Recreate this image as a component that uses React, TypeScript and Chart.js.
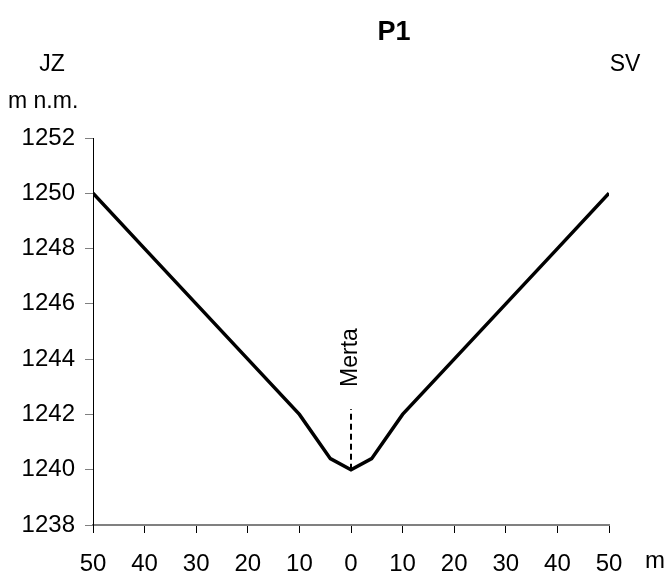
import React, { useEffect, useRef } from "react";
import { Chart, registerables } from "chart.js";

Chart.register(...registerables);

const distance = [-50, -40, -30, -20, -10, -4, 0, 4, 10, 20, 30, 40, 50];
const elevation = [1250, 1248, 1246, 1244, 1242, 1240.4, 1240, 1240.4, 1242, 1244, 1246, 1248, 1250];
const markerX = [0, 0];
const markerY = [1240, 1242.2];
const markerLabel = "Merta";
const title = "P1";
const leftSide = "JZ";
const rightSide = "SV";
const yUnit = "m n.m.";
const xUnit = "m";
const xMin = -50, xMax = 50, xStep = 10;
const yMin = 1238, yMax = 1252, yStep = 2;

const FONT = "'Liberation Sans', Arial, sans-serif";

export default function App() {
  const ref = useRef<HTMLCanvasElement>(null);
  useEffect(() => {
    document.body.style.margin = "0";
    const textPlugin = {
      id: "texts",
      afterDraw(chart: any) {
        const ctx = chart.ctx;
        const xs = chart.scales.x;
        const ys = chart.scales.y;
        ctx.save();
        ctx.fillStyle = "#000";
        ctx.textBaseline = "middle";
        ctx.font = `bold 27px ${FONT}`;
        ctx.textAlign = "center";
        ctx.fillText(title, 394, 33);
        ctx.font = `23px ${FONT}`;
        ctx.fillText(leftSide, 52, 65);
        ctx.fillText(rightSide, 625, 65);
        ctx.textAlign = "left";
        ctx.fillText(yUnit, 8, 102);
        ctx.font = `24px ${FONT}`;
        ctx.fillText(xUnit, 645, 561);
        // rotated marker label
        const px = xs.getPixelForValue(markerX[1]);
        const py = ys.getPixelForValue(markerY[1]);
        ctx.translate(px, py - 22);
        ctx.rotate(-Math.PI / 2);
        ctx.textAlign = "left";
        ctx.textBaseline = "middle";
        ctx.font = `23px ${FONT}`;
        ctx.fillText(markerLabel, 0, 0);
        ctx.restore();
      },
    };
    const chart = new Chart(ref.current!, {
      type: "scatter",
      data: {
        datasets: [
          {
            data: distance.map((x, i) => ({ x, y: elevation[i] })),
            showLine: true,
            borderColor: "#000",
            borderWidth: 3.5,
            pointRadius: 0,
            tension: 0,
          },
          {
            data: markerX.map((x, i) => ({ x, y: markerY[i] })),
            showLine: true,
            borderColor: "#000",
            borderWidth: 2,
            borderDash: [6, 4],
            pointRadius: 0,
          },
        ],
      },
      options: {
        animation: false,
        responsive: false,
        layout: { padding: { top: 138, right: 63, left: 0, bottom: 0 } },
        plugins: { legend: { display: false }, tooltip: { enabled: false }, title: { display: false } },
        scales: {
          x: {
            type: "linear",
            min: xMin,
            max: xMax,
            afterFit(s: any) { s.height = 52; },
            ticks: {
              stepSize: xStep,
              color: "#000",
              font: { family: FONT, size: 24 },
              padding: 17,
              maxRotation: 0,
              callback: (v: any) => String(Math.abs(Number(v))),
            },
            grid: { drawOnChartArea: false, drawTicks: true, tickLength: 8, color: "#000" },
            border: { color: "#808080", width: 2 },
          },
          y: {
            min: yMin,
            max: yMax,
            afterFit(s: any) { s.width = 93; },
            ticks: {
              stepSize: yStep,
              color: "#000",
              font: { family: FONT, size: 24 },
              padding: 10,
              callback: (v: any) => String(v),
            },
            grid: { drawOnChartArea: false, drawTicks: true, tickLength: 8, color: "#808080" },
            border: { color: "#000", width: 1 },
          },
        },
      },
      plugins: [textPlugin],
    });
    return () => chart.destroy();
  }, []);
  return (
    <div style={{ width: 672, height: 577 }}>
      <canvas ref={ref} width={672} height={577} />
    </div>
  );
}
